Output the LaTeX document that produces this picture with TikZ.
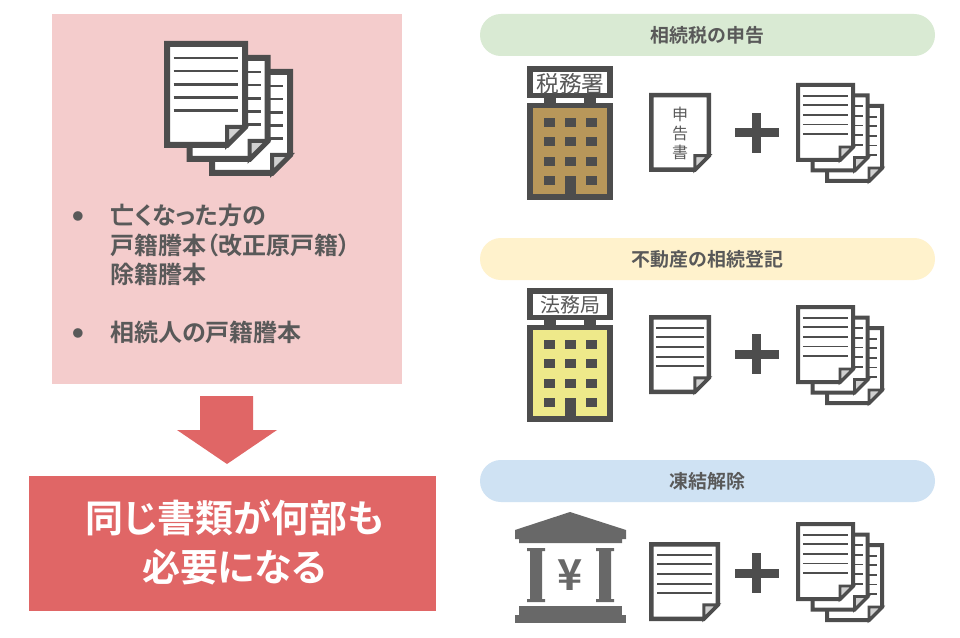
\documentclass[tikz,border=0pt]{standalone}
\usepackage{fontspec}
\setmainfont{Noto Sans CJK JP}[BoldFont={* Bold},RawFeature={+palt}]
\usetikzlibrary{positioning,calc}
\definecolor{inkgray}{RGB}{77,77,77}
\definecolor{textgray}{RGB}{89,89,89}
\definecolor{foldgray}{RGB}{208,208,208}
\definecolor{panelpink}{RGB}{244,204,204}
\definecolor{panelred}{RGB}{224,102,102}
\definecolor{pillgreen}{RGB}{217,234,211}
\definecolor{pillyellow}{RGB}{255,242,204}
\definecolor{pillblue}{RGB}{207,226,243}
\definecolor{bldggold}{RGB}{184,151,90}
\definecolor{bldgyellow}{RGB}{238,233,138}
\tikzset{
  pill/.style={rounded corners=15.7pt,minimum width=341.25pt,minimum height=31.5pt,inner sep=0pt,
    text=textgray,font=\fontsize{14.2}{17}\selectfont\bfseries},
  bodytext/.style={anchor=west,inner sep=0pt,text=textgray,font=\fontsize{18}{22}\selectfont\bfseries},
  bulletmark/.style={inner sep=0pt,text=textgray,font=\fontsize{8}{10}\selectfont},
  signtext/.style={inner sep=0pt,text=textgray,font=\fontsize{#1}{#1}\selectfont},
  signtext/.default=16
}
% page with a folded corner: x y w h (outer size) stroke fold
\newcommand{\docblank}[6]{%
  \pgfmathsetmacro{\dl}{#1+#5/2}\pgfmathsetmacro{\dt}{#2+#5/2}%
  \pgfmathsetmacro{\dr}{#1+#3-#5/2}\pgfmathsetmacro{\db}{#2+#4-#5/2}%
  \draw[inkgray,line width=#5*0.75pt,fill=white,miter limit=4] (\dl,\dt) -- (\dr,\dt) -- (\dr,\db-#6) -- (\dr-#6,\db) -- (\dl,\db) -- cycle;
  \draw[inkgray,line width=#5*0.5pt,fill=foldgray,line join=miter] (\dr-#6,\db) -- (\dr-#6,\db-#6) -- (\dr,\db-#6) -- cycle;
}
\newcommand{\docpage}[6]{%
  \docblank{#1}{#2}{#3}{#4}{#5}{#6}%
  \foreach \n in {0,...,4}
    \draw[inkgray,line width=#5*0.33pt] ({#1+0.115*#3},{#2+0.16*#4+0.122*#4*\n}) -- ({#1+#3-0.115*#3},{#2+0.16*#4+0.122*#4*\n});
}
\newcommand{\docstack}[8]{%
  \docpage{#1+2*#5}{#2+2*#6}{#3}{#4}{#7}{#8}%
  \docpage{#1+#5}{#2+#6}{#3}{#4}{#7}{#8}%
  \docpage{#1}{#2}{#3}{#4}{#7}{#8}%
}
\newcommand{\plusmark}[2]{%
  \fill[inkgray] (#1-22,#2-4.5) rectangle (#1+22,#2+4.5);
  \fill[inkgray] (#1-4.5,#2-20) rectangle (#1+4.5,#2+20);
}
% office building: top of sign, wall colour, node name, sign text, text size
\newcommand{\officebldg}[5]{%
  \fill[inkgray] (527,#1) rectangle (613,#1+32);
  \fill[white] (533,#1+6) rectangle (607,#1+27);
  \fill[inkgray] (544,#1+32) rectangle (556,#1+38);
  \fill[inkgray] (584,#1+32) rectangle (596,#1+38);
  \fill[inkgray] (527,#1+37) rectangle (613,#1+134);
  \fill[#2] (533,#1+42) rectangle (607,#1+128);
  \foreach \wy in {52,71,91,110} {
    \fill[inkgray] (544,#1+\wy) rectangle (555,#1+\wy+9);
    \fill[inkgray] (586,#1+\wy) rectangle (597,#1+\wy+9);
  }
  \foreach \wy in {52,71,91} \fill[inkgray] (565,#1+\wy) rectangle (576,#1+\wy+9);
  \fill[inkgray] (565,#1+110) rectangle (576,#1+128);
  \node[signtext=#5] (#3) at (570.5,#1+17.5) {#4};
}
\begin{document}
\begin{tikzpicture}[x=0.75pt,y=-0.75pt]
  \useasboundingbox (0,0) rectangle (960,638);
  \fill[white] (0,0) rectangle (960,638);

  % left side
  \fill[panelpink] (52,14) rectangle (402,384);
  \docstack{164}{41}{84}{107}{22.5}{14}{6}{18}

  \node[bulletmark] (bulleta) at (78,216) {●};
  \node[bodytext] (deceased) at (110,215) {亡くなった方の};
  \node[bodytext] (koseki) at (110,245) {戸籍謄本（改正原戸籍）};
  \node[bodytext] (joseki) at (110,274) {除籍謄本};
  \node[bulletmark] (bulletb) at (78,333) {●};
  \node[bodytext] (heirs) at (110,332) {相続人の戸籍謄本};

  \fill[panelred] (200,396) -- (253,396) -- (253,430) -- (277,430) -- (227,464) -- (177,430) -- (200,430) -- cycle;
  \fill[panelred] (29,476) rectangle (436,611);
  \node[text=white,align=center,font=\fontsize{28.5}{36.5}\selectfont\bfseries] (result) at (234.5,542) {同じ書類が何部も\\必要になる};

  % tax return
  \node[pill,fill=pillgreen] (taxtitle) at (707.5,35) {相続税の申告};
  \officebldg{66}{bldggold}{taxsign}{税務署}{17}
  \docblank{649}{93}{62}{79}{4.5}{14}
  \node[inner sep=0pt,text=textgray,align=center,font=\fontsize{12}{14.25}\selectfont] (taxform) at (680,133) {申\\告\\書};
  \plusmark{756.5}{133}
  \docstack{796}{83}{59}{79}{14.5}{10.5}{4}{13}

  % registration
  \node[pill,fill=pillyellow] (regtitle) at (707.5,259) {不動産の相続登記};
  \officebldg{287.5}{bldgyellow}{regsign}{法務局}{15}
  \docpage{649}{315}{62}{79}{4.5}{14}
  \plusmark{756.5}{354}
  \docstack{796}{305}{59}{79}{14.5}{10.5}{4}{13}

  % bank
  \node[pill,fill=pillblue] (banktitle) at (707.5,481) {凍結解除};
  \fill[inkgray!85] (570,512) -- (626,530) -- (626,539) -- (622,539) -- (622,543) -- (519,543) -- (519,539) -- (515,539) -- (515,530) -- cycle;
  \fill[inkgray!85] (527,548) -- (545,548) -- (545,551) -- (542,551) -- (542,599) -- (545,599) -- (545,602) -- (527,602) -- (527,599) -- (530,599) -- (530,551) -- (527,551) -- cycle;
  \fill[inkgray!85] (596,548) -- (614,548) -- (614,551) -- (611,551) -- (611,599) -- (614,599) -- (614,602) -- (596,602) -- (596,599) -- (599,599) -- (599,551) -- (596,551) -- cycle;
  \fill[inkgray!85] (519,606) rectangle (622,615);
  \fill[inkgray!85] (515,615) rectangle (626,623);
  \node[inner sep=0pt,text=inkgray!85,font=\fontsize{32}{32}\selectfont\bfseries] (yen) at (570,575.5) {¥};
  \docpage{649}{542}{71}{79}{4.5}{14}
  \plusmark{756.5}{573}
  \docstack{796}{522}{59}{79}{14.5}{10.5}{4}{13}
\end{tikzpicture}
\end{document}
